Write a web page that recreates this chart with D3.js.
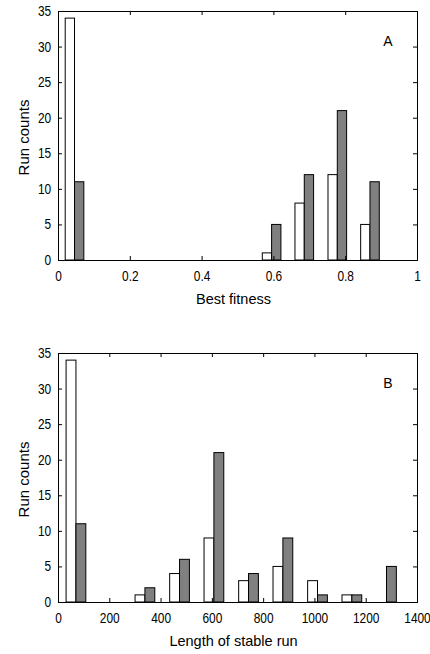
<!DOCTYPE html>
<html lang="en">
<head>
    <meta charset="UTF-8">
    <title>Run counts</title>
    <script src="https://cdn.jsdelivr.net/npm/d3@7"></script>
    <style>
        body { margin: 0; background: #fff; }
        text { font-family: "Liberation Sans", Arial, sans-serif; fill: #000; }
    </style>
</head>
<body>
<div id="chart"></div>
<script>
    // panel A: best fitness histogram (bin centres)
    var fitnessBins = [0.046, 0.137, 0.229, 0.320, 0.412, 0.503, 0.595, 0.686, 0.778, 0.869];
    var fitnessWhite = [34, 0, 0, 0, 0, 0, 1, 8, 12, 5];
    var fitnessGray = [11, 0, 0, 0, 0, 0, 5, 12, 21, 11];
    var fitnessTicks = [0, 0.2, 0.4, 0.6, 0.8, 1];

    // panel B: length of stable run
    var lengthBins = [70, 205, 339, 474, 608, 743, 877, 1012, 1146, 1281];
    var lengthWhite = [34, 0, 1, 4, 9, 3, 5, 3, 1, 0];
    var lengthGray = [11, 0, 2, 6, 21, 4, 9, 1, 1, 5];
    var lengthTicks = [0, 200, 400, 600, 800, 1000, 1200, 1400];

    var countTicks = [0, 5, 10, 15, 20, 25, 30, 35];

    var svg = d3.select('#chart')
            .append('svg')
            .attr('width', 430)
            .attr('height', 654);

    function panel(cfg) {
        var left = 58, right = 417;
        var x = d3.scaleLinear().domain(cfg.xDomain).range([left, right]);
        var y = d3.scaleLinear().domain([0, 35]).range([cfg.bottom, cfg.top]);
        var g = svg.append('g');

        var step = x(cfg.bins[1]) - x(cfg.bins[0]);
        var bw = step * 0.285;

        var rows = cfg.bins.map(function(b, i){
            return {b: b, w: cfg.white[i], g: cfg.gray[i]};
        });

        // white bars (left of bin centre)
        g.selectAll('rect.w')
                .data(rows)
                .enter()
                .append('rect')
                .attr('class', 'w')
                .attr('x', function(d){ return x(d.b) - bw; })
                .attr('y', function(d){ return y(d.w); })
                .attr('width', bw)
                .attr('height', function(d){ return y(0) - y(d.w); })
                .attr('fill', '#fff')
                .attr('stroke', '#000')
                .attr('stroke-width', 1);

        // gray bars (right of bin centre)
        g.selectAll('rect.g')
                .data(rows)
                .enter()
                .append('rect')
                .attr('class', 'g')
                .attr('x', function(d){ return x(d.b); })
                .attr('y', function(d){ return y(d.g); })
                .attr('width', bw)
                .attr('height', function(d){ return y(0) - y(d.g); })
                .attr('fill', '#808080')
                .attr('stroke', '#000')
                .attr('stroke-width', 1);

        var tl = -4; // inward ticks

        g.append('g')
                .attr('transform', 'translate(0,' + cfg.bottom + ')')
                .call(d3.axisBottom(x).tickValues(cfg.ticks).tickSize(tl).tickPadding(11).tickFormat(cfg.fmt));
        g.append('g')
                .attr('transform', 'translate(0,' + cfg.top + ')')
                .call(d3.axisTop(x).tickValues(cfg.ticks).tickSize(tl).tickFormat(''));
        g.append('g')
                .attr('transform', 'translate(' + left + ',0)')
                .call(d3.axisLeft(y).tickValues(countTicks).tickSize(tl).tickPadding(8));
        g.append('g')
                .attr('transform', 'translate(' + right + ',0)')
                .call(d3.axisRight(y).tickValues(countTicks).tickSize(tl).tickFormat(''));

        g.selectAll('.domain').attr('stroke', '#000').attr('stroke-width', 1);
        g.selectAll('.tick line').attr('stroke', '#000');
        // narrow, tall digits like the original
        g.selectAll('.tick text')
                .style('font-size', '14px')
                .style('font-family', '"Liberation Sans", Arial, sans-serif')
                .attr('transform', 'scale(0.85,1)')
                .attr('fill', '#000');

        g.append('text')
                .attr('x', (left + right) / 2 - 4)
                .attr('y', cfg.bottom + 44)
                .attr('text-anchor', 'middle')
                .style('font-size', '14.5px')
                .text(cfg.xLabel);

        g.append('text')
                .attr('transform', 'translate(29,' + ((cfg.top + cfg.bottom) / 2 + 2) + ') rotate(-90)')
                .attr('text-anchor', 'middle')
                .style('font-size', '15px')
                .text('Run counts');

        g.append('text')
                .attr('x', 388)
                .attr('y', cfg.top + 35)
                .attr('text-anchor', 'middle')
                .style('font-size', '14px')
                .text(cfg.letter);
    }

    panel({
        top: 11, bottom: 260,
        xDomain: [0, 1],
        bins: fitnessBins, white: fitnessWhite, gray: fitnessGray,
        ticks: fitnessTicks,
        fmt: function(d){ return d === 0 || d === 1 ? d : d3.format('.1f')(d); },
        xLabel: 'Best fitness',
        letter: 'A'
    });

    panel({
        top: 353, bottom: 602,
        xDomain: [0, 1400],
        bins: lengthBins, white: lengthWhite, gray: lengthGray,
        ticks: lengthTicks,
        fmt: d3.format('d'),
        xLabel: 'Length of stable run',
        letter: 'B'
    });
</script>
</body>
</html>
